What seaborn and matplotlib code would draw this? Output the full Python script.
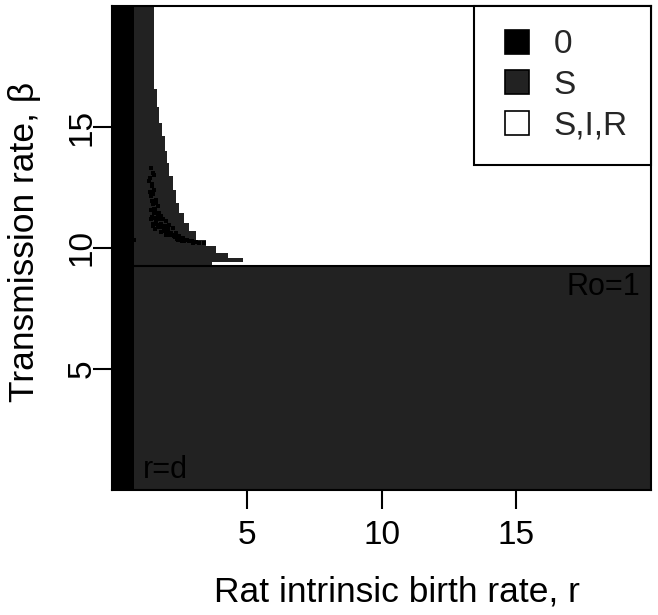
import numpy as np
import pandas as pd
import matplotlib
matplotlib.use("Agg")
import matplotlib.pyplot as plt
from matplotlib.colors import ListedColormap
from matplotlib.lines import Line2D
import seaborn as sns

# region classes
class_labels = ["0", "S", "S,I,R"]
class_colors = ["#000000", "#222222", "#ffffff"]

d_value = 0.83          # r=d strip (class 0)
beta_ro1 = 9.25         # Ro=1 line
r_max, beta_max = 20, 20

# staircase edge of the S region above Ro=1 (bottom of band -> right edge in r)
band_beta_bottom = [9.25, 9.42, 9.60, 9.81, 10.08, 10.35, 10.70, 11.04, 11.45, 11.87,
                    12.41, 12.96, 13.51, 13.99, 14.61, 15.16, 15.84, 16.56]
band_r_edge = [3.70, 4.85, 4.30, 3.86, 3.49, 3.12, 2.87, 2.69, 2.50, 2.38,
               2.25, 2.13, 2.04, 1.95, 1.85, 1.76, 1.66, 1.55]

# isolated class-0 cells inside the S region
speck_r = [1.45, 1.51, 1.57, 1.39, 1.49, 1.57, 1.45, 1.64, 1.51, 1.70, 1.57, 1.76,
           1.45, 1.64, 1.82, 1.51, 1.88, 2.01, 1.95, 2.13, 2.07, 2.25, 2.19, 2.38,
           2.50, 2.44, 2.63, 2.75, 2.69, 2.87, 3.00, 3.24, 3.43, 0.83, 1.60, 1.70,
           1.80, 1.95, 2.05, 2.30,
           1.40, 1.47, 1.42, 1.53, 1.47, 1.55, 1.62, 1.43,
           1.48, 1.58, 1.68, 1.73, 1.53, 1.63, 1.78, 1.70, 1.85, 1.60,
           1.92, 2.00, 2.10, 2.15, 2.28, 2.33, 2.40, 2.55, 2.58, 2.80,
           2.95, 3.10, 1.80, 2.00]
speck_beta = [13.31, 13.10, 13.03, 12.76, 12.55, 12.41, 12.14, 12.00, 11.80, 11.73,
              11.45, 11.45, 11.18, 11.11, 11.32, 10.90, 11.18, 11.11, 10.90, 10.97,
              10.77, 10.83, 10.63, 10.63, 10.49, 10.35, 10.42, 10.35, 10.29, 10.29,
              10.22, 10.22, 10.22, 10.35, 11.60, 11.30, 11.00, 10.70, 10.60, 10.50,
              12.90, 12.65, 12.30, 12.25, 11.95, 11.60, 11.85, 11.55,
              11.30, 11.25, 11.45, 11.20, 11.00, 11.00, 10.95, 10.85, 10.85, 10.80,
              10.70, 10.75, 10.62, 10.52, 10.55, 10.45, 10.38, 10.40, 10.30, 10.33,
              10.28, 10.25, 10.65, 10.55]

tick_vals = [5, 10, 15]

# build class grid from the boundaries
r_edges = np.unique([0, d_value, *band_r_edge, r_max])
b_edges = np.unique([0, beta_ro1, *band_beta_bottom, beta_max])
r_mid = (r_edges[:-1] + r_edges[1:]) / 2
b_mid = (b_edges[:-1] + b_edges[1:]) / 2
Z = np.zeros((len(b_mid), len(r_mid)))
for i, b in enumerate(b_mid):
    for j, r in enumerate(r_mid):
        if r < d_value:
            Z[i, j] = 0
        elif b < beta_ro1:
            Z[i, j] = 1
        else:
            k = np.searchsorted(band_beta_bottom, b, side="right") - 1
            Z[i, j] = 1 if (k >= 0 and r < band_r_edge[k]) else 2

sns.set_theme(style="ticks")
plt.rcParams["font.family"] = ["Liberation Sans", "DejaVu Sans"]

fig = plt.figure(figsize=(6.58, 6.15), dpi=100)
ax = fig.add_axes([112 / 658, 1 - 490 / 615, (651 - 112) / 658, (490 - 6) / 615])

ax.pcolormesh(r_edges, b_edges, Z, cmap=ListedColormap(class_colors), vmin=-0.5, vmax=2.5)

specks = pd.DataFrame({"r": speck_r, "beta": speck_beta})
sns.scatterplot(data=specks, x="r", y="beta", marker="s", s=5, color="black",
                linewidth=0, ax=ax, legend=False)

ax.axhline(beta_ro1, color="black", lw=1.5)

ax.text(19.6, 8.4, "Ro=1", ha="right", va="center", fontsize=22, color="black")
ax.text(1.13, 0.84, "r=d", ha="left", va="center", fontsize=22, color="black")

ax.set_xlim(0, r_max)
ax.set_ylim(0, beta_max)
ax.set_xticks(tick_vals)
ax.set_yticks(tick_vals)
ax.set_xticklabels([str(v) for v in tick_vals])
ax.set_yticklabels([str(v) for v in tick_vals], rotation=90, va="center")
ax.tick_params(direction="out", length=13.5, width=1.5, labelsize=24, color="black",
               labelcolor="black")
ax.tick_params(axis="x", pad=8)
ax.tick_params(axis="y", pad=-3)
for s in ax.spines.values():
    s.set_visible(True)
    s.set_color("black")
    s.set_linewidth(1.5)

ax.set_xlabel("Rat intrinsic birth rate, r", fontsize=25.5, color="black")
ax.set_ylabel("Transmission rate, β", fontsize=25.5, color="black")
ax.xaxis.set_label_coords((397 - 112) / 539, (490 - 592) / 484)
ax.xaxis.label.set_va("center")
ax.yaxis.set_label_coords((25 - 112) / 539, (490 - 242) / 484)
ax.yaxis.label.set_va("center")
ax.yaxis.label.set_ha("center")

handles = [Line2D([], [], linestyle="none", marker="s", markersize=17,
                  markerfacecolor=c, markeredgecolor="black", markeredgewidth=1.2)
           for c in class_colors]
leg = ax.legend(handles, class_labels, loc="upper right", borderaxespad=0,
                fontsize=24, frameon=True, fancybox=False, borderpad=0.7,
                labelspacing=0.29, handlelength=1.21, handletextpad=0.48)
leg.get_frame().set_edgecolor("black")
leg.get_frame().set_linewidth(1.5)
leg.get_frame().set_alpha(1)

fig.savefig("out.png", dpi=100)
